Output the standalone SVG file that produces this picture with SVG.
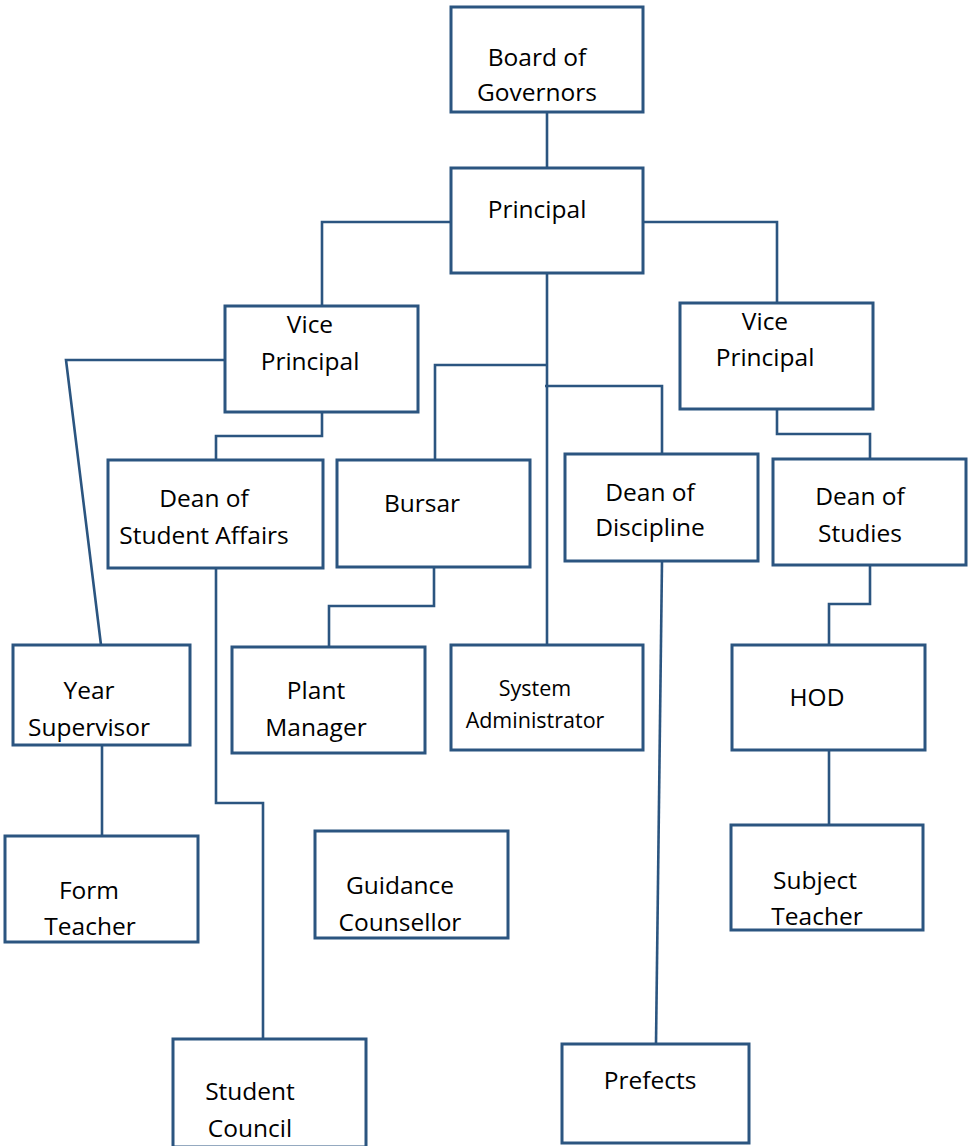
<svg xmlns="http://www.w3.org/2000/svg" width="973" height="1146" viewBox="0 0 973 1146">
<style>
rect{fill:#fff;stroke:#2b5580;stroke-width:3}
.c path{fill:none;stroke:#2b5580;stroke-width:2.6}
text{font-family:"Open Sans","Noto Sans",sans-serif;font-size:24.5px;fill:#000;text-anchor:middle}
.s{font-size:21.5px}
</style>
<rect width="973" height="1146" style="fill:#fff;stroke:none"/>
<g class="c" id="connectors">
<path d="M547 112V168"/>
<path d="M451 222H322V306"/>
<path d="M643 222H777V303"/>
<path d="M547 273V645"/>
<path d="M547 365H435V460"/>
<path d="M545 386H662V454"/>
<path d="M225 360H66L101 645"/>
<path d="M322 412V436H216V460"/>
<path d="M777 409V434H870V459"/>
<path d="M216 568V803H263V1039"/>
<path d="M434 567V606H329V647"/>
<path d="M662 561L656 1044"/>
<path d="M870 565V604H829V645"/>
<path d="M829 750V825"/>
<path d="M102 745V836"/>
</g>
<g id="board"><rect x="451" y="7" width="192" height="105"/><text x="537" y="66">Board of</text><text x="537" y="101">Governors</text></g>
<g id="principal"><rect x="451" y="168" width="192" height="105"/><text x="537" y="218">Principal</text></g>
<g id="vp-left"><rect x="225" y="306" width="193" height="106"/><text x="310" y="333">Vice</text><text x="310" y="370">Principal</text></g>
<g id="vp-right"><rect x="680" y="303" width="193" height="106"/><text x="765" y="330">Vice</text><text x="765" y="366">Principal</text></g>
<g id="dean-sa"><rect x="108" y="460" width="215" height="108"/><text x="204" y="507">Dean of</text><text x="204" y="544">Student Affairs</text></g>
<g id="bursar"><rect x="337" y="460" width="193" height="107"/><text x="422" y="512">Bursar</text></g>
<g id="dean-disc"><rect x="565" y="454" width="193" height="107"/><text x="650" y="501">Dean of</text><text x="650" y="536">Discipline</text></g>
<g id="dean-studies"><rect x="773" y="459" width="193" height="106"/><text x="860" y="505">Dean of</text><text x="860" y="542">Studies</text></g>
<g id="year-sup"><rect x="13" y="645" width="177" height="100"/><text x="89" y="699">Year</text><text x="89" y="736">Supervisor</text></g>
<g id="plant"><rect x="232" y="647" width="193" height="106"/><text x="316" y="699">Plant</text><text x="316" y="736">Manager</text></g>
<g id="sysadmin"><rect x="451" y="645" width="192" height="105"/><text class="s" x="535" y="696">System</text><text class="s" x="535" y="728">Administrator</text></g>
<g id="hod"><rect x="732" y="645" width="193" height="105"/><text x="817" y="706">HOD</text></g>
<g id="form-teacher"><rect x="5" y="836" width="193" height="106"/><text x="89" y="899">Form</text><text x="90" y="935">Teacher</text></g>
<g id="guidance"><rect x="315" y="831" width="193" height="107"/><text x="400" y="894">Guidance</text><text x="400" y="931">Counsellor</text></g>
<g id="subject-teacher"><rect x="731" y="825" width="192" height="105"/><text x="815" y="889">Subject</text><text x="817" y="925">Teacher</text></g>
<g id="student-council"><rect x="173" y="1039" width="193" height="108"/><text x="250" y="1100">Student</text><text x="250" y="1137">Council</text></g>
<g id="prefects"><rect x="562" y="1044" width="187" height="99"/><text x="650" y="1089">Prefects</text></g>
</svg>
